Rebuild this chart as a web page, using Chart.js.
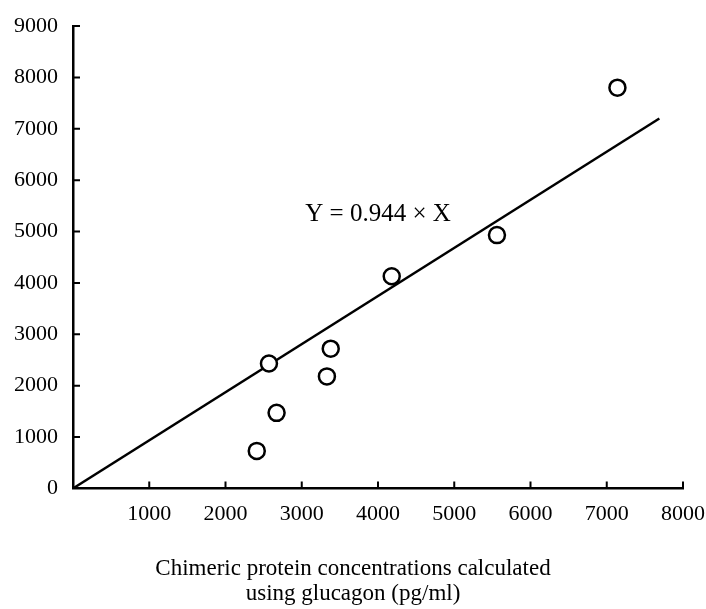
<!DOCTYPE html>
<html>
<head>
<meta charset="utf-8">
<script src="https://cdn.jsdelivr.net/npm/chart.js@4"></script>
<style>
  body { margin: 0; background: #fff; }
</style>
</head>
<body>
<canvas id="myChart" width="706" height="609"></canvas>
<script>
// measured points
var pointX = [2410, 2570, 2670, 3330, 3380, 4180, 5560, 7140];
var pointY = [730, 2430, 1470, 2180, 2720, 4130, 4930, 7800];
// fitted line end points
var lineX = [0, 7690];
var lineY = [0, 7200];
var xTicks = [1000, 2000, 3000, 4000, 5000, 6000, 7000, 8000];
var yTicks = [0, 1000, 2000, 3000, 4000, 5000, 6000, 7000, 8000, 9000];
var eqText = "Y = 0.944 \u00d7 X";
var xTitle = ["Chimeric protein concentrations calculated", "using glucagon (pg/ml)"];

var serif = "'Liberation Serif', 'Times New Roman', serif";

var pts = pointX.map(function(v, i){ return {x: v, y: pointY[i]}; });
var line = lineX.map(function(v, i){ return {x: v, y: lineY[i]}; });

// tick marks drawn inside the plot, plus the equation label
var extras = {
    id: 'extras',
    afterDraw: function(chart){
        var ctx = chart.ctx;
        var xs = chart.scales.x, ys = chart.scales.y;
        var area = chart.chartArea;
        ctx.save();
        ctx.strokeStyle = '#000';
        ctx.lineWidth = 2;
        ctx.beginPath();
        xTicks.forEach(function(t){
            var px = xs.getPixelForValue(t);
            ctx.moveTo(px, area.bottom);
            ctx.lineTo(px, area.bottom - 7);
        });
        yTicks.forEach(function(t){
            if (t === 0) return;
            var py = ys.getPixelForValue(t);
            ctx.moveTo(area.left, py);
            ctx.lineTo(area.left + 7, py);
        });
        ctx.stroke();
        ctx.fillStyle = '#000';
        ctx.font = '25px ' + serif;
        ctx.textAlign = 'center';
        ctx.textBaseline = 'middle';
        ctx.fillText(eqText, xs.getPixelForValue(4000), ys.getPixelForValue(5330));
        ctx.restore();
    }
};

var ctx = document.getElementById('myChart').getContext('2d');
var myChart = new Chart(ctx, {
    type: 'scatter',
    data: {
        datasets: [{
            data: pts,
            pointStyle: 'circle',
            pointRadius: 8,
            pointBorderWidth: 2.5,
            borderColor: '#000',
            backgroundColor: '#fff',
            order: 0
        }, {
            type: 'line',
            data: line,
            borderColor: '#000',
            borderWidth: 2.5,
            pointRadius: 0,
            fill: false,
            order: 1
        }]
    },
    options: {
        responsive: false,
        animation: false,
        layout: { padding: { top: 26, right: 0, left: 0, bottom: 0 } },
        plugins: {
            legend: { display: false },
            tooltip: { enabled: false },
            title: {
                display: true,
                position: 'bottom',
                text: xTitle,
                color: '#000',
                font: { family: serif, size: 23, weight: 'normal', lineHeight: 1.1 },
                padding: { top: 31, bottom: 2 }
            }
        },
        scales: {
            x: {
                type: 'linear',
                min: 0,
                max: 8000,
                afterFit: function(s){
                    s.height = 37;
                    s.paddingLeft = 0;
                    s.paddingRight = 23;
                },
                afterBuildTicks: function(s){
                    s.ticks = xTicks.map(function(v){ return {value: v}; });
                },
                ticks: {
                    color: '#000',
                    font: { family: serif, size: 22 },
                    padding: 13,
                    maxRotation: 0,
                    callback: function(v){ return String(v); }
                },
                grid: { drawOnChartArea: false, drawTicks: false },
                border: { color: '#000', width: 2.5 }
            },
            y: {
                min: 0,
                max: 9000,
                afterFit: function(s){
                    s.width = 73;
                    s.paddingTop = 0;
                    s.paddingBottom = 0;
                },
                afterBuildTicks: function(s){
                    s.ticks = yTicks.map(function(v){ return {value: v}; });
                },
                ticks: {
                    color: '#000',
                    font: { family: serif, size: 22 },
                    padding: 15,
                    callback: function(v){ return String(v); }
                },
                grid: { drawOnChartArea: false, drawTicks: false },
                border: { color: '#000', width: 2.5 }
            }
        }
    },
    plugins: [extras]
});
</script>
</body>
</html>
